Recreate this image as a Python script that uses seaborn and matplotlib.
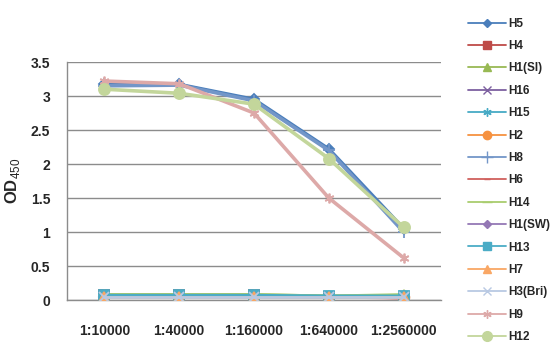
import numpy as np
import pandas as pd
import matplotlib
matplotlib.use('Agg')
import matplotlib.pyplot as plt
from matplotlib.lines import Line2D
import seaborn as sns

dilutions = ['1:10000', '1:40000', '1:160000', '1:640000', '1:2560000']
subtypes = ['H5', 'H4', 'H1(SI)', 'H16', 'H15', 'H2', 'H8', 'H6', 'H14',
            'H1(SW)', 'H13', 'H7', 'H3(Bri)', 'H9', 'H12']

h5 = [3.17, 3.17, 2.95, 2.22, 1.05]
h4 = [0.07, 0.07, 0.07, 0.05, 0.03]
h1_si = [0.08, 0.08, 0.08, 0.06, 0.07]
h16 = [0.05, 0.05, 0.05, 0.04, 0.04]
h15 = [0.06, 0.06, 0.06, 0.05, 0.05]
h2 = [0.07, 0.07, 0.07, 0.05, 0.04]
h8 = [3.15, 3.16, 2.93, 2.2, 1.0]
h6 = [0.06, 0.06, 0.06, 0.04, 0.03]
h14 = [0.08, 0.08, 0.08, 0.06, 0.08]
h1_sw = [0.05, 0.05, 0.05, 0.04, 0.04]
h13 = [0.07, 0.07, 0.07, 0.06, 0.06]
h7 = [0.04, 0.04, 0.04, 0.04, 0.04]
h3_bri = [0.05, 0.05, 0.05, 0.05, 0.05]
h9 = [3.22, 3.18, 2.75, 1.5, 0.62]
h12 = [3.1, 3.04, 2.88, 2.08, 1.07]

values = [h5, h4, h1_si, h16, h15, h2, h8, h6, h14, h1_sw, h13, h7, h3_bri, h9, h12]

colors = ['#4A7EBB', '#BE4B48', '#98B954', '#7D60A0', '#46AAC5', '#F69240',
          '#7396C8', '#D0605D', '#A9CD6E', '#9478B5', '#4BACC6', '#F9A765',
          '#B9C9E3', '#DDA9A8', '#C3D69B']
marks = ['D', 's', '^', 'x', (6, 2, 0), 'o', '+', '_', '_', 'D', 's', '^', 'x', (6, 2, 0), 'o']
msizes = [5, 7, 7, 7, 7, 7, 9, 5, 8, 5, 7, 7, 7, 7, 8]

rows = []
for name, vals in zip(subtypes, values):
    for d, v in zip(dilutions, vals):
        rows.append({'subtype': name, 'dilution': d, 'od': v})
df = pd.DataFrame(rows)
df['x'] = df['dilution'].map({d: i for i, d in enumerate(dilutions)})

sns.set_theme(style='white')
plt.rcParams['font.family'] = ['Liberation Sans', 'DejaVu Sans']
plt.rcParams['mathtext.fontset'] = 'custom'
plt.rcParams['mathtext.rm'] = 'Liberation Sans'
plt.rcParams['mathtext.bf'] = 'Liberation Sans:bold'

fig = plt.figure(figsize=(5.52, 3.6), dpi=100)
ax = fig.add_axes([67 / 552, 1 - 300 / 360, 374 / 552, 238 / 360])

for i, name in enumerate(subtypes):
    sub = df[df['subtype'] == name]
    high = max(values[i]) > 1
    sns.lineplot(data=sub, x='x', y='od', ax=ax, color=colors[i],
                 marker=marks[i], markersize=msizes[i], markeredgecolor=colors[i],
                 markeredgewidth=1.3, linewidth=2.6 if high else 2.0,
                 legend=False, zorder=3 + i)

ax.set_xlim(-0.5, 4.5)
ax.set_ylim(0, 3.5)
ax.set_yticks(np.arange(0, 3.51, 0.5))
ax.set_yticklabels(['0', '0.5', '1', '1.5', '2', '2.5', '3', '3.5'],
                   fontsize=10, fontweight='bold')
ax.set_xticks(range(len(dilutions)))
ax.set_xticklabels(dilutions, fontsize=10, fontweight='bold')
ax.tick_params(axis='x', pad=17, length=0)
ax.tick_params(axis='y', pad=12, length=0)
ax.set_xlabel('')
ax.set_ylabel(r'$\mathbf{OD}_{\mathrm{450}}$', fontsize=12, labelpad=6)
ax.yaxis.grid(True, color='#8C8C8C', linewidth=1)
ax.xaxis.grid(False)
for s in ['top', 'right']:
    ax.spines[s].set_visible(False)
for s in ['left', 'bottom']:
    ax.spines[s].set_color('#8C8C8C')
    ax.spines[s].set_linewidth(1)

handles = [Line2D([0], [0], color=colors[i], marker=marks[i], markersize=msizes[i] - 1,
                  markeredgecolor=colors[i], linewidth=1.3)
           for i in range(len(subtypes))]
leg = fig.legend(handles, subtypes, loc='upper left', bbox_to_anchor=(463 / 552, 1 - 13 / 360),
                 frameon=False, fontsize=8.5, labelspacing=0.88, handlelength=3.2,
                 handletextpad=0.2, borderaxespad=0)
for t in leg.get_texts():
    t.set_fontweight('bold')

fig.savefig('out.png', dpi=100)
